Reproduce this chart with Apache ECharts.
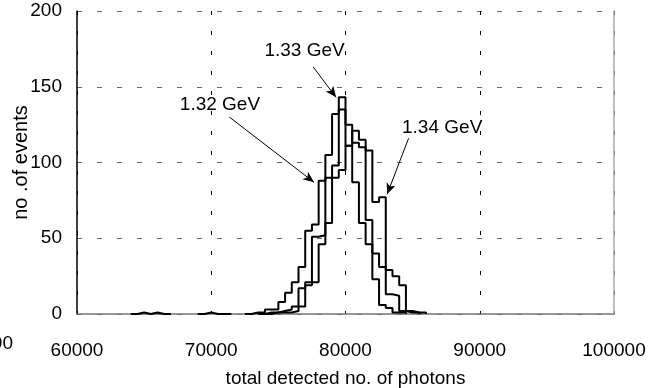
<!DOCTYPE html>
<html>
<head>
<meta charset="utf-8">
<script src="https://cdn.jsdelivr.net/npm/echarts@6/dist/echarts.min.js"></script>
<style>
html, body { margin: 0; padding: 0; background: #fff; }
#container { width: 655px; height: 388px; }
</style>
</head>
<body>
<div id="container"></div>
<script>
// histogram bins are 500 photons wide; each array starts at its lower edge
var binWidth = 500;

var start132 = 64000;
var counts132 = [0, 1, 0, 1, 0, 0, '-', '-', '-', '-', 0, 1, 0, 0, 0, '-', '-', 0,
    1, 1, 3, 3, 8, 14, 21, 31, 55, 59, 88, 105, 132, 135, 111, 87, 60, 46, 23, 6, 4, 1, 1];

var start133 = 73500;
var counts133 = [0, 1, 1, 2, 3, 5, 17, 21, 51, 52, 90, 98, 143, 125, 113, 110, 62, 40, 31, 13, 12, 2, 1, 1];

var start134 = 74000;
var counts134 = [0, 1, 1, 1, 2, 5, 19, 21, 46, 60, 90, 95, 111, 121, 115, 108, 74, 77, 29, 25, 19, 2, 1, 1];

var xTicks = [60000, 100000, 10000];
var yTicks = [0, 200, 50];

// annotation labels and arrows, in data units
var labelNames = ['1.32 GeV', '1.33 GeV', '1.34 GeV'];
var labelPos = [[70650, 138], [76950, 174], [87200, 123]];
var arrowFrom = [[71350, 130], [77600, 163], [84700, 116]];
var arrowTo = [[77650, 87], [79300, 143], [83100, 79]];

function histPoints(start, counts) {
    var pts = [[start, 0]];
    counts.forEach(function (c, i) {
        pts.push([start + i * binWidth, c]);
    });
    pts.push([start + counts.length * binWidth, 0]);
    return pts;
}

var font = 'Liberation Sans, Arial, sans-serif';

function histSeries(name, start, counts) {
    return {
        name: name,
        type: 'line',
        step: 'end',
        symbol: 'none',
        data: histPoints(start, counts),
        lineStyle: { color: '#000', width: 2 },
        animation: false
    };
}

var myChart = echarts.init(document.getElementById('container'));

var s132 = histSeries('1.32 GeV', start132, counts132);
var s133 = histSeries('1.33 GeV', start133, counts133);
var s134 = histSeries('1.34 GeV', start134, counts134);

s133.markLine = {
    silent: true,
    symbol: ['none', 'arrow'],
    symbolSize: [7, 11],
    label: { show: false },
    lineStyle: { color: '#000', width: 1, type: 'solid' },
    data: arrowFrom.map(function (p, i) {
        return [{ coord: p }, { coord: arrowTo[i] }];
    })
};
s133.markPoint = {
    silent: true,
    symbol: 'circle',
    symbolSize: 1,
    itemStyle: { color: 'rgba(0,0,0,0)' },
    label: {
        show: true,
        position: 'inside',
        formatter: '{b}',
        color: '#000',
        fontSize: 19,
        fontFamily: font
    },
    data: labelNames.map(function (n, i) {
        return { name: n, coord: labelPos[i] };
    })
};

option = {
    backgroundColor: '#fff',
    animation: false,
    grid: { left: 77, right: 41, top: 11, bottom: 74, outerBoundsMode: 'none' },
    xAxis: {
        type: 'value',
        min: xTicks[0],
        max: xTicks[1],
        interval: xTicks[2],
        axisLine: { show: true, onZero: false, lineStyle: { color: '#777', width: 1.5 } },
        axisTick: { show: false },
        axisLabel: {
            color: '#000', fontSize: 19, margin: 27, fontFamily: font,
            formatter: function (v) { return String(v); }
        },
        splitLine: { show: true, lineStyle: { color: '#000', width: 1, type: [4, 16] } },
        name: 'total detected no. of photons',
        nameLocation: 'middle',
        nameGap: 55,
        nameMoveOverlap: false,
        nameTextStyle: { color: '#000', fontSize: 19, fontFamily: font }
    },
    yAxis: [{
        type: 'value',
        min: yTicks[0],
        max: yTicks[1],
        interval: yTicks[2],
        axisLine: { show: true, lineStyle: { color: '#000', width: 1.5 } },
        axisTick: { show: false },
        axisLabel: { color: '#000', fontSize: 19, margin: 15, fontFamily: font },
        splitLine: { show: true, lineStyle: { color: '#666', width: 1, type: [5, 15] } },
        name: 'no .of events',
        nameLocation: 'middle',
        nameRotate: 90,
        nameGap: 46,
        nameMoveOverlap: false,
        nameTextStyle: { color: '#000', fontSize: 20, fontFamily: font }
    }, {
        type: 'value',
        position: 'right',
        min: yTicks[0],
        max: yTicks[1],
        interval: yTicks[2],
        axisLine: { show: true, lineStyle: { color: '#aaa', width: 1.5 } },
        axisTick: { show: false },
        axisLabel: { show: false },
        splitLine: { show: false }
    }],
    graphic: [{
        type: 'text',
        right: 642,
        top: 334,
        style: { text: '00', fill: '#000', font: '19px ' + font }
    }],
    series: [s132, s133, s134]
};

myChart.setOption(option);
</script>
</body>
</html>
